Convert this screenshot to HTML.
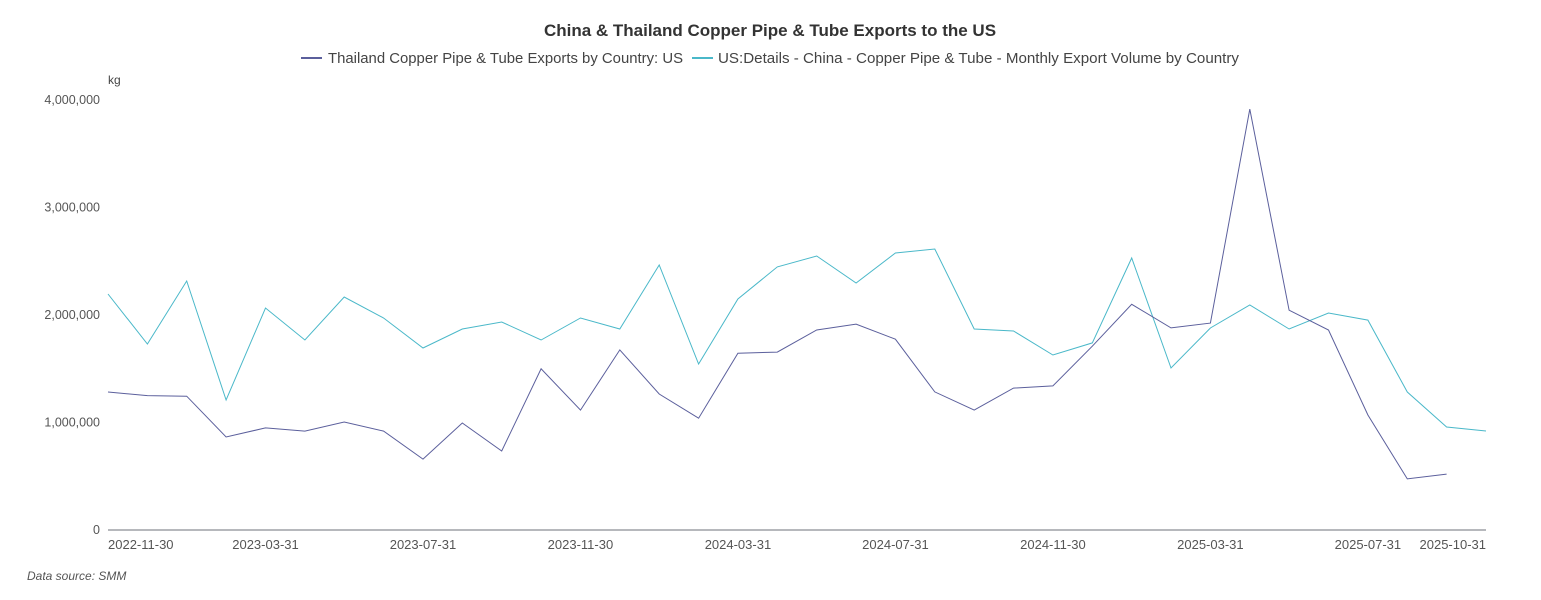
<!DOCTYPE html>
<html><head><meta charset="utf-8"><style>
html,body{margin:0;padding:0;background:#fff;width:1541px;height:600px;overflow:hidden;font-family:"Liberation Sans",sans-serif}
</style></head><body>
<svg id="chart" width="1541" height="600" xmlns="http://www.w3.org/2000/svg">
<text x="770" y="36" text-anchor="middle" font-size="17" font-weight="bold" fill="#333">China &amp; Thailand Copper Pipe &amp; Tube Exports to the US</text>
<g>
<line x1="301" y1="58" x2="322" y2="58" stroke="#5b5f9c" stroke-width="2"/>
<text x="328" y="63" font-size="15" fill="#444" textLength="355" lengthAdjust="spacingAndGlyphs">Thailand Copper Pipe &amp; Tube Exports by Country: US</text></g>
<g>
<line x1="692" y1="58" x2="713" y2="58" stroke="#4ab8c9" stroke-width="2"/>
<text x="718" y="63" font-size="15" fill="#444" textLength="521" lengthAdjust="spacingAndGlyphs">US:Details - China - Copper Pipe &amp; Tube - Monthly Export Volume by Country</text></g>
<text x="108" y="84" font-size="12" fill="#444">kg</text>
<line x1="108" y1="530" x2="1486" y2="530" stroke="#6e7079" stroke-width="1"/>
<g id="yt"></g><g id="xt"></g><g id="series"></g>
<text x="27" y="580" font-size="12" font-style="italic" fill="#555">Data source:  SMM</text>
</svg>
<script>
const categories=[];
(function(){let y=2022,m=11;for(let i=0;i<36;i++){categories.push(y+'-'+String(m).padStart(2,'0'));m++;if(m>12){m=1;y++;}}})();
const tickLabels=['2022-11-30','2023-03-31','2023-07-31','2023-11-30','2024-03-31','2024-07-31','2024-11-30','2025-03-31','2025-07-31','2025-10-31'];
const tickIndex=[0,4,8,12,16,20,24,28,32,35];
const yTicks=[0,1000000,2000000,3000000,4000000];
const thailand=[1284000,1250000,1245000,865000,950000,920000,1005000,920000,660000,995000,735000,1500000,1115000,1675000,1265000,1040000,1645000,1655000,1860000,1915000,1775000,1285000,1115000,1320000,1340000,1710000,2100000,1880000,1925000,3915000,2045000,1860000,1070000,475000,520000];
const china=[2195000,1730000,2316000,1209000,2065000,1767000,2167000,1972000,1693000,1870000,1935000,1767000,1972000,1870000,2465000,1544000,2149000,2447000,2549000,2298000,2577000,2614000,1870000,1851000,1628000,1740000,2530000,1507000,1879000,2093000,1870000,2019000,1953000,1284000,958000,921000];
const NS='http://www.w3.org/2000/svg';
const X=i=>108+i*(1378/35);
const Y=v=>530-v/4000000*430;
const yt=document.getElementById('yt'),xt=document.getElementById('xt'),sg=document.getElementById('series');
yTicks.forEach(v=>{const t=document.createElementNS(NS,'text');
t.setAttribute('x',100);t.setAttribute('y',Y(v)+4);t.setAttribute('text-anchor','end');t.setAttribute('font-size','12.5');t.setAttribute('fill','#555');
t.textContent=v.toLocaleString('en-US');


yt.appendChild(t);});
tickIndex.forEach((idx,k)=>{const t=document.createElementNS(NS,'text');
let x=X(idx),anc='middle';if(idx===0)anc='start';if(k===tickIndex.length-1)anc='end';
t.setAttribute('x',x);t.setAttribute('y',549);t.setAttribute('text-anchor',anc);t.setAttribute('font-size','13');t.setAttribute('fill','#555');
t.textContent=tickLabels[k];


xt.appendChild(t);});
function line(data,color,name){const p=document.createElementNS(NS,'polyline');
p.setAttribute('points',data.map((v,i)=>X(i).toFixed(1)+','+Y(v).toFixed(1)).join(' '));
p.setAttribute('fill','none');p.setAttribute('stroke',color);p.setAttribute('stroke-width','1');


sg.appendChild(p);}
line(china,'#4ab8c9','china-series-line');
line(thailand,'#5b5f9c','thailand-series-line');
</script>
</body></html>
